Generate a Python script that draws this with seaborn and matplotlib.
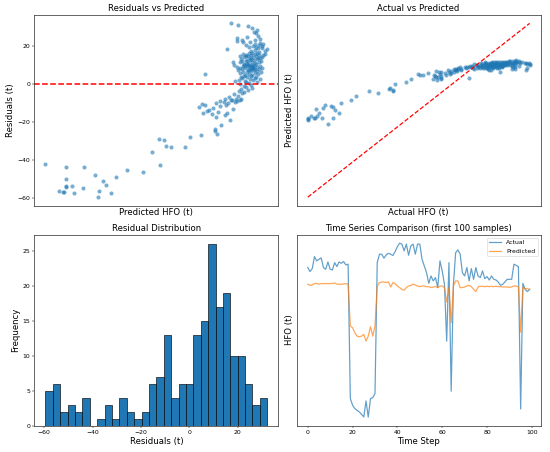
import numpy as np
import pandas as pd
import matplotlib
matplotlib.use('Agg')
import matplotlib.pyplot as plt
import seaborn as sns

# Test set: predicted HFO (t) and residuals (actual - predicted)
pred_hfo = [
    # residuals below -40
    74.1, 69.0, 76.7, 66.6, 66.9,
    65.9, 74.2, 70.8, 67.3, 68.5, 67.3,
    75.7, 75.1,
    67.3, 77.8, 73.4,
    83.4, 80.0,
    71.1, 67.3, 87.0, 63.0,
    # -40 .. -20
    85.3, 88.2, 89.2, 92.2, 87.7,
    86.7, 93.2, 95.5, 98.9,
    98.5, 98.4, 99.75,
    # -20 .. 0
    101.6, 98.6,
    100.6, 97.8, 95.9, 99.2, 96.8, 101.0,
    97.2, 98.0, 95.2, 99.6, 96.4, 100.8, 102.3,
    95.8, 98.6, 101.2, 102.6, 100.3, 103.1, 99.5, 101.9, 103.6, 102.0, 100.6, 104.0, 102.9,
    101.5, 103.2, 102.4, 104.1,
    104.6, 103.5, 105.3, 104.0, 106.2, 105.0,
    # 0 .. 32
    104.5, 106.0, 103.8, 105.6, 107.3, 105.0,
    102.6, 104.8, 106.5, 103.4, 105.7, 107.8, 104.2, 106.9, 105.1, 103.9, 107.1, 105.9, 104.6,
    104.7, 106.3, 96.3, 105.5, 107.5, 103.8, 106.8, 105.2, 108.0, 104.4, 106.0, 107.2, 105.6, 103.3, 106.6,
    105.3, 106.9, 104.1, 107.7, 105.9, 103.6, 106.4, 104.8, 108.2, 105.5, 106.2, 103.0, 107.3,
    105.0, 106.7, 104.3, 105.8, 107.9, 106.0, 104.6, 105.4, 102.4, 106.5, 107.0, 105.1, 106.2,
    104.5, 106.8, 105.4, 107.6, 103.7, 106.2, 105.0, 108.1, 104.2, 106.6, 105.7, 107.2, 103.9,
    106.0, 107.8, 102.2, 105.2,
    105.8, 107.4, 104.6, 106.5, 108.2, 105.3, 107.0, 103.8, 106.1, 108.6, 105.0, 107.6, 104.3,
    106.8, 108.9, 105.6, 107.3, 106.2, 104.9,
    107.7, 105.9, 108.9, 106.8, 101.0, 109.4, 107.5, 108.3, 105.5, 107.0,
    108.2, 106.4, 107.6, 104.9, 108.6, 106.9, 107.9, 105.8, 104.3, 103.0,
    104.2, 106.9, 107.9, 103.1, 105.2, 107.5,
    107.1, 106.6, 107.2,
    106.3, 105.4, 103.3, 101.9,
]
residuals = [
    -59.45, -57.2, -57.2, -56.9, -56.9,
    -56.0, -56.0, -54.6, -54.1, -53.7, -53.5,
    -53.0, -51.1,
    -49.7, -48.9, -48.0,
    -46.4, -45.4,
    -43.8, -43.3, -42.4, -41.9,
    -35.5, -32.5, -32.9, -32.9, -29.4,
    -28.7, -27.7, -26.8, -26.4,
    -24.7, -23.3, -21.6,
    -19.0, -17.2,
    -16.3, -15.6, -14.9, -14.4, -14.0, -15.2,
    -13.3, -12.6, -12.0, -11.5, -11.0, -10.8, -12.9,
    -10.4, -10.1, -9.8, -9.5, -9.3, -9.0, -8.8, -8.5, -8.3, -8.1, -7.9, -7.7, -7.6,
    -6.8, -6.0, -5.2, -4.7,
    -4.2, -3.6, -3.0, -2.5, -2.0, -1.6,
    -1.1, -0.4, 0.2, 0.7, 1.1, 1.4,
    1.8, 2.0, 2.3, 2.5, 2.8, 3.0, 3.2, 3.5, 3.7, 3.9, 4.1, 4.4, 4.5,
    4.8, 5.0, 5.3, 5.4, 5.6, 5.8, 6.0, 6.3, 6.5, 6.7, 6.9, 7.1, 7.3, 7.4, 7.6,
    7.8, 7.9, 8.0, 8.1, 8.3, 8.4, 8.5, 8.7, 8.8, 8.9, 9.0, 9.1, 9.3,
    9.4, 9.5, 9.6, 9.7, 9.9, 10.0, 10.1, 10.2, 10.3, 10.4, 10.5, 10.6, 8.6,
    10.9, 11.1, 11.3, 11.5, 11.7, 11.9, 12.1, 12.3, 12.5, 12.7, 12.9, 13.1, 13.3,
    13.5, 13.7, 11.6, 12.6,
    13.9, 14.0, 14.2, 14.4, 14.5, 14.7, 14.9, 15.0, 15.2, 15.4, 15.5, 15.7, 15.9,
    16.0, 16.2, 16.4, 16.5, 16.7, 15.1,
    17.0, 17.3, 17.7, 18.0, 18.4, 18.7, 19.0, 19.3, 19.5, 19.8,
    20.0, 20.3, 20.6, 20.9, 21.2, 21.5, 21.8, 22.1, 22.4, 22.8,
    23.2, 23.6, 24.0, 24.5, 25.0, 25.6,
    27.0, 27.8, 28.6,
    29.7, 30.6, 31.3, 32.11,
]

# First 100 samples for the time series panel
ts_actual = [
    118.8, 115.8, 118.0, 127.0, 123.8, 125.0, 126.0, 118.8, 117.5, 123.0,
    117.5, 117.0, 122.5, 119.5, 123.0, 122.0, 123.3, 120.8, 121.3, 20.8,
    15.8, 13.3, 12.0, 10.8, 9.0, 7.0, 19.0, 7.0, 20.8, 21.5,
    24.5, 122.5, 128.8, 128.8, 125.8, 128.3, 129.5, 128.8, 127.8, 130.8,
    134.5, 137.0, 136.3, 131.3, 136.3, 128.0, 135.0, 136.3, 128.8, 136.3,
    136.3, 125.0, 120.0, 115.0, 107.0, 112.5, 108.8, 111.3, 103.8, 123.8,
    116.3, 106.3, 63.8, 122.5, 26.3, 106.3, 130.0, 132.0, 128.8, 115.0,
    112.5, 118.8, 108.8, 118.0, 110.0, 118.8, 112.5, 111.3, 116.3, 110.5,
    112.0, 109.5, 112.5, 110.0, 109.5, 108.0, 105.5, 106.3, 108.0, 110.0,
    110.0, 110.0, 121.3, 120.5, 119.5, 13.0, 107.0, 102.5, 100.8, 102.5,
]
ts_predicted = [
    106.3, 105.5, 105.8, 106.8, 107.0, 106.3, 106.8, 106.8, 106.8, 106.8,
    106.8, 106.8, 107.3, 106.3, 106.3, 106.3, 106.5, 106.8, 106.3, 75.0,
    73.8, 70.0, 67.5, 67.0, 67.5, 68.8, 63.8, 67.5, 74.5, 67.5,
    75.0, 105.0, 107.5, 108.0, 108.0, 107.5, 108.0, 104.3, 107.5, 106.8,
    105.0, 103.8, 102.5, 101.8, 103.8, 105.0, 105.5, 106.3, 105.8, 105.0,
    104.5, 105.0, 105.0, 104.5, 104.5, 103.8, 104.3, 104.5, 103.8, 105.0,
    105.0, 103.8, 93.0, 103.8, 77.5, 105.0, 108.8, 108.8, 103.8, 103.8,
    104.3, 105.0, 105.5, 104.5, 102.5, 100.8, 104.3, 104.8, 104.8, 104.5,
    104.8, 104.5, 104.8, 104.5, 104.8, 104.5, 104.5, 104.3, 104.3, 104.3,
    104.0, 104.3, 105.0, 105.0, 104.3, 70.5, 104.3, 103.0, 103.0, 102.5,
]

pred_hfo = np.array(pred_hfo)
residuals = np.array(residuals)
actual_hfo = pred_hfo + residuals
ts = pd.DataFrame({'step': np.arange(len(ts_actual)),
                   'Actual': ts_actual, 'Predicted': ts_predicted})

plt.rcParams['axes.linewidth'] = 1.2
plt.rcParams['axes.edgecolor'] = '#333333'

dpi = 44
fig, axes = plt.subplots(2, 2, figsize=(550 / dpi, 452 / dpi))
plt.subplots_adjust(left=0.0624, right=0.9831, top=0.9675, bottom=0.0582,
                    wspace=0.075, hspace=0.15)

# Residuals vs Predicted
ax = axes[0, 0]
sns.scatterplot(x=pred_hfo, y=residuals, ax=ax, alpha=0.6, s=45, linewidth=0)
ax.axhline(0, color='r', linestyle='--', linewidth=2.5)
ax.set_title('Residuals vs Predicted', fontsize=14)
ax.set_xlabel('Predicted HFO (t)', fontsize=14)
ax.set_ylabel('Residuals (t)', fontsize=14)
ax.set_xticks([])

# Actual vs Predicted
ax = axes[0, 1]
sns.scatterplot(x=actual_hfo, y=pred_hfo, ax=ax, alpha=0.6, s=45, linewidth=0)
lo, hi = actual_hfo.min(), actual_hfo.max()
ax.plot([lo, hi], [lo, hi], 'r--', linewidth=2)
ax.set_title('Actual vs Predicted', fontsize=14)
ax.set_xlabel('Actual HFO (t)', fontsize=14)
ax.set_ylabel('Predicted HFO (t)', fontsize=14)
ax.set_xticks([])
ax.set_yticks([])

# Residual distribution
ax = axes[1, 0]
sns.histplot(x=residuals, bins=30, ax=ax, color='#1f77b4', alpha=1,
             edgecolor='black', linewidth=1)
ax.set_title('Residual Distribution', fontsize=14)
ax.set_xlabel('Residuals (t)', fontsize=14)
ax.set_ylabel('Frequency', fontsize=14)

# Time series
ax = axes[1, 1]
sns.lineplot(data=ts, x='step', y='Actual', ax=ax, label='Actual', alpha=0.7, linewidth=2)
sns.lineplot(data=ts, x='step', y='Predicted', ax=ax, label='Predicted', alpha=0.7, linewidth=2)
ax.set_title('Time Series Comparison (first 100 samples)', fontsize=14)
ax.set_xlabel('Time Step', fontsize=14)
ax.set_ylabel('HFO (t)', fontsize=14)
ax.set_yticks([])
ax.legend(loc='upper right')

plt.savefig('out.png', dpi=dpi)
